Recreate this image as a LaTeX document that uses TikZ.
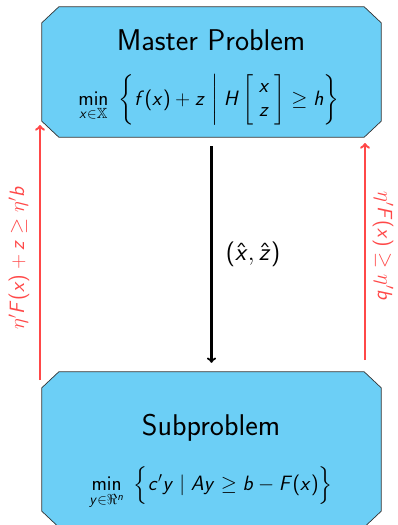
\documentclass[tikz,border=0pt]{standalone}
\usepackage{amsmath,amssymb}
\usetikzlibrary{calc}

% sans serif maths, as on the slides
\DeclareSymbolFont{sfletters}{OT1}{cmss}{m}{sl}
\SetSymbolFont{operators}{normal}{OT1}{cmss}{m}{n}
\DeclareMathSymbol{A}{\mathalpha}{sfletters}{`A}
\DeclareMathSymbol{F}{\mathalpha}{sfletters}{`F}
\DeclareMathSymbol{H}{\mathalpha}{sfletters}{`H}
\DeclareMathSymbol{b}{\mathalpha}{sfletters}{`b}
\DeclareMathSymbol{c}{\mathalpha}{sfletters}{`c}
\DeclareMathSymbol{f}{\mathalpha}{sfletters}{`f}
\DeclareMathSymbol{h}{\mathalpha}{sfletters}{`h}
\DeclareMathSymbol{n}{\mathalpha}{sfletters}{`n}
\DeclareMathSymbol{x}{\mathalpha}{sfletters}{`x}
\DeclareMathSymbol{y}{\mathalpha}{sfletters}{`y}
\DeclareMathSymbol{z}{\mathalpha}{sfletters}{`z}
\DeclareMathSymbol{(}{\mathopen}{operators}{"28}
\DeclareMathSymbol{)}{\mathclose}{operators}{"29}
\DeclareMathSymbol{+}{\mathbin}{operators}{"2B}

\definecolor{boxblue}{RGB}{108,207,246}
\definecolor{cutred}{RGB}{255,72,72}

\tikzset{
  probbox/.style={rectangle, inner sep=0pt, minimum width=339pt},
  boxline/.style={draw=black!80, fill=boxblue, line width=0.7pt},
  cutarrow/.style={->, cutred, line width=2.4pt},
  cutlabel/.style={cutred, inner sep=0.5pt, font=\fontsize{21}{24}\selectfont},
}

% chamfered outline round a named box
\newcommand\chamferbox[1]{%
  \filldraw[boxline] ([xshift=17pt]#1.north west) -- ([xshift=-17pt]#1.north east)
    -- ([yshift=-16pt]#1.north east) -- ([yshift=16pt]#1.south east)
    -- ([xshift=-17pt]#1.south east) -- ([xshift=17pt]#1.south west)
    -- ([yshift=16pt]#1.south west) -- ([yshift=-16pt]#1.north west) -- cycle;}

\begin{document}
\sffamily
\begin{tikzpicture}[x=1pt, y=-1pt]
    \useasboundingbox (0,0) rectangle (397,525);

    % Master problem
    \node[probbox, minimum height=130pt] (master) at (211.5,72) {};
    \chamferbox{master}
    \node[font=\fontsize{30}{33}\selectfont] (mtitle) at (211,40) {Master Problem};
    \node[font=\fontsize{21}{24}\selectfont] (mform) at (209,100)
        {$\displaystyle\min_{x\in\mathbb{X}}\ \left\{ f(x)+z \;\middle|\; H\left[\begin{array}{c} x\\ z\end{array}\right] \geq h \right\}$};

    % Subproblem
    \node[probbox, minimum height=155pt] (sub) at (211.5,449.5) {};
    \chamferbox{sub}
    \node[font=\fontsize{30}{33}\selectfont] (stitle) at (211,428) {Subproblem};
    \node[font=\fontsize{21}{24}\selectfont] (sform) at (211,488)
        {$\displaystyle\min_{y\in\Re^n}\ \Big\{ c'y \mid Ay \geq b - F(x) \Big\}$};

    % Master -> subproblem
    \draw[->, line width=2.2pt, shorten <=9pt, shorten >=9pt] (master.south) -- (sub.north)
        node[midway, right=10pt, font=\fontsize{28}{31}\selectfont] (sol) {$(\hat{x},\hat{z})$};

    % Cuts back to the master
    \coordinate (optbot) at (40,380);
    \coordinate (opttop) at (40,125);
    \coordinate (feasbot) at (365,360);
    \coordinate (feastop) at (365,143);
    \draw[cutarrow] (optbot) -- (opttop);
    \draw[cutarrow] (feasbot) -- (feastop);
    \node[cutlabel, rotate=90] (optcut) at (19,258) {$\eta'F(x)+z \geq \eta'b$};
    \node[cutlabel, rotate=-90] (feascut) at (383,246) {$\eta'F(x) \geq \eta'b$};

\end{tikzpicture}
\end{document}
